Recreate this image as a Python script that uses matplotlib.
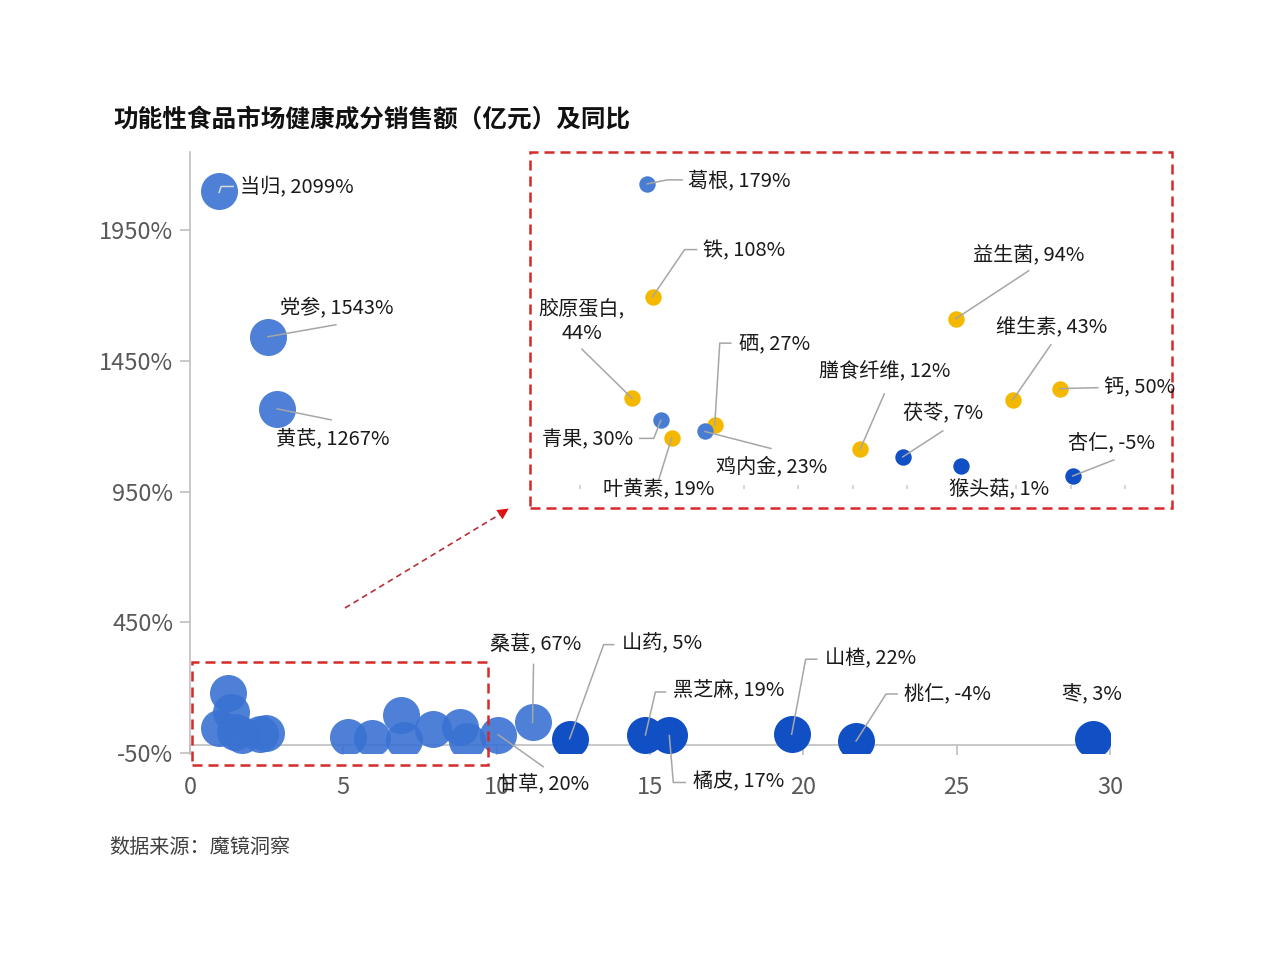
import matplotlib
matplotlib.use("Agg")
import matplotlib.pyplot as plt
from matplotlib.lines import Line2D
from matplotlib.patches import Rectangle, FancyArrowPatch

plt.rcParams['font.family'] = ['Noto Sans CJK SC', 'DejaVu Sans']

# 数据：销售额（亿元）与同比（%）
names = ['当归', '党参', '黄芪', '葛根', '铁', '胶原蛋白', '青果', '叶黄素', '硒', '鸡内金',
         '膳食纤维', '茯苓', '猴头菇', '益生菌', '维生素', '钙', '杏仁',
         '甘草', '桑葚', '山药', '黑芝麻', '橘皮', '山楂', '桃仁', '枣']
sales = [0.95, 2.54, 2.84, 1.23, 1.33, 0.95, 1.48, 1.68, 2.47, 2.29,
         5.14, 5.92, 6.99, 6.89, 7.94, 8.80, 9.04,
         10.05, 11.17, 12.38, 14.85, 15.63, 19.62, 21.72, 29.43]
yoy = [2099, 1543, 1267, 179, 108, 44, 30, 19, 27, 23,
       12, 7, 1, 94, 43, 50, -5,
       20, 67, 5, 19, 17, 22, -4, 3]

# 主图中深色气泡
main_dark = ['山药', '黑芝麻', '橘皮', '山楂', '桃仁', '枣']
# 放大图中的分类
herb = ['葛根', '青果', '鸡内金']
nutrient = ['铁', '胶原蛋白', '叶黄素', '硒', '膳食纤维', '益生菌', '维生素', '钙']
food = ['茯苓', '猴头菇', '杏仁']

x_ticks = [0, 5, 10, 15, 20, 25, 30]
y_ticks = [-50, 450, 950, 1450, 1950]

LIGHT = '#3a72d2'
DARK = '#1150c4'
BLUE = '#487dd4'
YELLOW = '#f5b800'
RED = '#d42a2a'
GREY = '#a6a6a6'
AXIS = '#bfbfbf'

W, H = 1280, 960


def fx(px):
    return px / W


def fy(py):
    return 1 - py / H


fig = plt.figure(figsize=(12.8, 9.6), dpi=100)

# ---- main chart
ax = fig.add_axes([fx(190), fy(753), fx(1110) - fx(190), fy(152) - fy(753)])
ax.set_xlim(0, 30)
ax.set_ylim(-50, 2250)

idx_light = [i for i, n in enumerate(names) if n not in main_dark]
idx_dark = [i for i, n in enumerate(names) if n in main_dark]
ax.scatter([sales[i] for i in idx_light], [yoy[i] for i in idx_light],
           s=710, color=LIGHT, alpha=0.9, linewidths=0, zorder=3)
ax.scatter([sales[i] for i in idx_dark], [yoy[i] for i in idx_dark],
           s=710, color=DARK, linewidths=0, zorder=3)

for s in ['top', 'right']:
    ax.spines[s].set_visible(False)
ax.spines['left'].set_color(AXIS)
ax.spines['bottom'].set_color(AXIS)
ax.spines['left'].set_linewidth(1.2)
ax.spines['bottom'].set_linewidth(1.2)
ax.spines['bottom'].set_position(('data', -20))
ax.set_xticks(x_ticks)
ax.set_yticks(y_ticks)
ax.set_yticklabels([f'{v}%' for v in y_ticks])
ax.tick_params(axis='both', colors=AXIS, labelcolor='#595959', labelsize=17,
               length=7, width=1.2)
ax.tick_params(axis='x', pad=15)
ax.tick_params(axis='y', pad=5)

# zoom region box and arrow
ax.add_patch(Rectangle((0.07, -96), 9.65, 394, fill=False, edgecolor=RED,
                       linewidth=1.8, linestyle=(0, (4, 2.4)), clip_on=False, zorder=5))
fig.add_artist(Line2D([fx(345), fx(502)], [fy(608), fy(513)], color='#b8303a',
                      linewidth=1.2, linestyle=(0, (3.5, 2.5)), transform=fig.transFigure))
fig.add_artist(FancyArrowPatch((fx(496), fy(517)), (fx(511), fy(507)),
                               transform=fig.transFigure, arrowstyle='-|>',
                               mutation_scale=20, color='#e01010', linewidth=0))

# ---- inset chart
ins = fig.add_axes([fx(530), fy(508), fx(1172) - fx(530), fy(152) - fy(508)])
ins.set_xlim(-0.92, 10.86)
ins.set_ylim(-25.2, 199.1)
for s in ins.spines.values():
    s.set_visible(False)
ins.spines['bottom'].set_position(('data', -12))
ins.set_xticks(range(11))
ins.set_yticks([])
ins.tick_params(axis='x', direction='inout', length=2.5, width=1.2,
                color='#d0d0d0', labelbottom=False)
ins.add_patch(Rectangle((0, 0), 1, 1, transform=ins.transAxes, fill=False,
                        edgecolor=RED, linewidth=1.8, linestyle=(0, (4, 2.4)),
                        clip_on=False))
ins.patch.set_alpha(0)

for group, col in [(nutrient, YELLOW), (herb, BLUE), (food, DARK)]:
    idx = [i for i, n in enumerate(names) if n in group]
    ins.scatter([sales[i] for i in idx], [yoy[i] for i in idx],
                s=140, color=col, linewidths=0, zorder=3)

# ---- labels: (dx, dy, ha, leader offsets) in pixels, y downward
main_labels = {
    '当归': (21, -5, 'left', [(0, 1), (2, -5), (14, -5)]),
    '党参': (12, -28, 'left', [(0, 0), (68, -12)]),
    '黄芪': (-1, 30, 'left', [(0, 0), (54, 11)]),
    '桑葚': (-43, -79, 'left', [(0, 0), (1, -58)]),
    '山药': (52, -95, 'left', [(0, 0), (34, -94), (44, -94)]),
    '黑芝麻': (28, -44, 'left', [(0, 0), (10, -43), (20, -43)]),
    '橘皮': (24, 46, 'left', [(0, 0), (4, 47), (16, 47)]),
    '山楂': (33, -75, 'left', [(0, 0), (14, -75), (25, -75)]),
    '桃仁': (48, -46, 'left', [(0, 0), (30, -47), (41, -47)]),
    '枣': (-31, -44, 'left', []),
    '甘草': (0, 50, 'left', [(0, 0), (45, 32)]),
}
inset_labels = {
    '葛根': (41, -3, 'left', [(0, 0), (20, -4), (35, -4)]),
    '铁': (50, -46, 'left', [(0, 0), (32, -47), (44, -47)]),
    '胶原蛋白': (-50, -77, 'center', [(0, 0), (-50, -49)]),
    '青果': (-28, 19, 'right', [(0, 0), (-7, 18), (-21, 18)]),
    '叶黄素': (-13, 51, 'center', [(0, 0), (-13, 42)]),
    '硒': (24, -81, 'left', [(0, 0), (5, -82), (16, -82)]),
    '鸡内金': (11, 35, 'left', [(0, 0), (66, 17)]),
    '膳食纤维': (24, -77, 'center', [(0, 0), (24, -55)]),
    '茯苓': (40, -43, 'center', [(0, 0), (40, -26)]),
    '猴头菇': (38, 23, 'center', []),
    '杏仁': (39, -32, 'center', [(0, 0), (41, -16)]),
    '益生菌': (73, -63, 'center', [(0, 0), (73, -48)]),
    '维生素': (39, -72, 'center', [(0, 0), (38, -55)]),
    '钙': (44, -1, 'left', [(0, 0), (38, -1)]),
}


def put_labels(axes, layout):
    for name, (dx, dy, ha, leader) in layout.items():
        i = names.index(name)
        px, py = axes.transData.transform((sales[i], yoy[i]))
        py = H - py
        text = f'{name}, {yoy[i]}%'
        if name == '胶原蛋白':
            text = f'{name},\n{yoy[i]}%'
        if leader:
            lc = '#d9d9d9' if name == '当归' else GREY
            fig.add_artist(Line2D([fx(px + a) for a, b in leader],
                                  [fy(py + b) for a, b in leader],
                                  color=lc, linewidth=1.1, transform=fig.transFigure))
        fig.text(fx(px + dx), fy(py + dy), text, ha=ha, va='center',
                 fontsize=14.5, color='#1a1a1a', multialignment='center')


put_labels(ax, main_labels)
put_labels(ins, inset_labels)

fig.text(fx(113), fy(120), '功能性食品市场健康成分销售额（亿元）及同比',
         fontsize=17.7, fontweight='bold', color='#111111', va='center')
fig.text(fx(109), fy(847), '数据来源：魔镜洞察', fontsize=14.5,
         color='#404040', va='center')

fig.savefig('out.png', dpi=100, facecolor='white')
